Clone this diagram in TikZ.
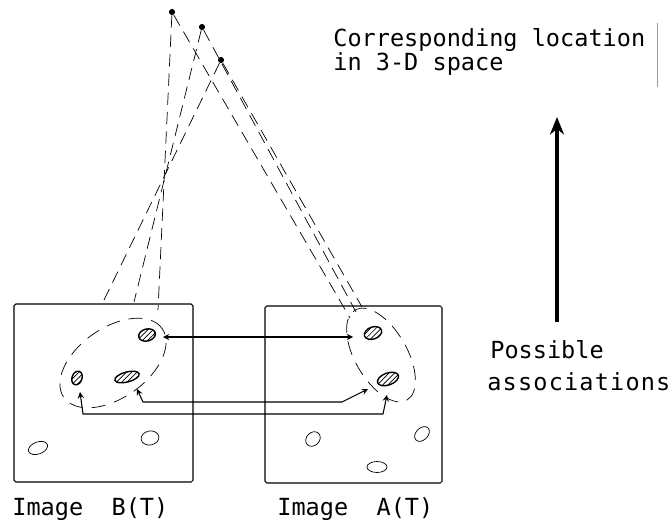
\documentclass[tikz,border=0pt]{standalone}
\usepackage{fontspec}
\setmonofont{DejaVu Sans Mono}
\usepackage{tikz}
\usetikzlibrary{arrows,arrows.meta,patterns}
\definecolor{scangray}{rgb}{0.6, 0.6, 0.6}

\begin{document}
\begin{tikzpicture}[
    lbl/.style={font=\ttfamily\fontsize{13.4}{14}\selectfont,inner sep=0pt,anchor=base west},
    proj/.style={thin,dash pattern=on 7pt off 4pt},
    zone/.style={thin,dash pattern=on 8pt off 5pt},
    frame/.style={semithick,rounded corners=1pt},
    feat/.style={thick,pattern=north east lines},
    spot/.style={thin},
    link/.style={semithick,>=stealth,<->},
    pt/.style={circle,fill,inner sep=0pt,minimum size=3.5pt}
  ]
  \useasboundingbox (0,0) rectangle (13.36,10.5);

  \draw[frame] (0.28,0.86) rectangle (3.86,4.42);
  \draw[frame] (5.30,0.84) rectangle (8.84,4.38);

  \node[pt] (p1) at (3.44,10.26) {};
  \node[pt] (p2) at (4.04,9.96) {};
  \node[pt] (p3) at (4.42,9.30) {};
  \coordinate (pb1) at (3.16,4.30);
  \coordinate (pb2) at (2.68,4.46);
  \coordinate (pb3) at (2.08,4.50);
  \coordinate (pa1) at (7.00,4.14);
  \coordinate (pa2) at (7.12,4.26);
  \coordinate (pa3) at (7.24,4.36);
  \draw[proj] (p1) -- (pb1);
  \draw[proj] (p2) -- (pb2);
  \draw[proj] (p3) -- (pb3);
  \draw[proj] (p1) -- (pa1);
  \draw[proj] (p2) -- (pa2);
  \draw[proj] (p3) -- (pa3);

  \draw[zone,rotate around={35:(2.26,3.24)}] (2.26,3.24) ellipse (1.2 and 0.7);
  \draw[zone,rotate around={-60:(7.62,3.40)}] (7.62,3.40) ellipse (1.04 and 0.52);

  \draw[feat,rotate around={15:(2.94,3.80)}] (2.94,3.80) ellipse (0.17 and 0.12);
  \draw[feat,rotate around={-20:(1.54,2.94)}] (1.54,2.94) ellipse (0.10 and 0.14);
  \draw[feat,rotate around={15:(2.54,2.96)}] (2.54,2.96) ellipse (0.25 and 0.10);
  \draw[feat,rotate around={20:(7.46,3.84)}] (7.46,3.84) ellipse (0.18 and 0.12);
  \draw[feat,rotate around={20:(7.76,2.92)}] (7.76,2.92) ellipse (0.22 and 0.12);
  \draw[spot,rotate around={20:(0.76,1.54)}] (0.76,1.54) ellipse (0.20 and 0.12);
  \draw[spot,rotate around={10:(3.00,1.74)}] (3.00,1.74) ellipse (0.18 and 0.14);
  \draw[spot,rotate around={45:(6.26,1.72)}] (6.26,1.72) ellipse (0.16 and 0.13);
  \draw[spot,rotate around={45:(8.44,1.82)}] (8.44,1.82) ellipse (0.17 and 0.12);
  \draw[spot] (7.54,1.16) ellipse (0.20 and 0.11);

  \coordinate (b1) at (3.26,3.76);
  \coordinate (a1) at (7.06,3.76);
  \coordinate (b2) at (2.74,2.72);
  \coordinate (a2) at (7.36,2.72);
  \coordinate (b3) at (1.60,2.66);
  \coordinate (a3) at (7.74,2.60);
  \draw[link] (b1) -- (a1);
  \draw[link] (b2) -- ++(0.12,-0.26) -- ++(3.98,0) -- (a2);
  \draw[link] (b3) -- ++(0.06,-0.44) -- ++(6.0,0) -- (a3);

  \coordinate (up0) at (11.14,4.06);
  \coordinate (up1) at (11.14,8.16);
  \draw[line width=2.2pt,-{Stealth[length=10pt,width=8pt]}] (up0) -- (up1);

  \node[lbl] (loc1) at (6.66,9.56) {Corresponding location};
  \node[lbl] (loc2) at (6.66,9.08) {in 3-D space};
  \draw[scangray,very thin] (13.14,10.04) -- (13.14,8.76);
  \node[lbl] (poss) at (9.80,3.34) {Possible};
  \node[lbl] (assoc) at (9.74,2.70) {\addfontfeature{LetterSpace=5}associations};
  \node[lbl] (imgb) at (0.24,0.20) {Image~~B(T)};
  \node[lbl] (imga) at (5.54,0.20) {Image~~A(T)};
\end{tikzpicture}
\end{document}
